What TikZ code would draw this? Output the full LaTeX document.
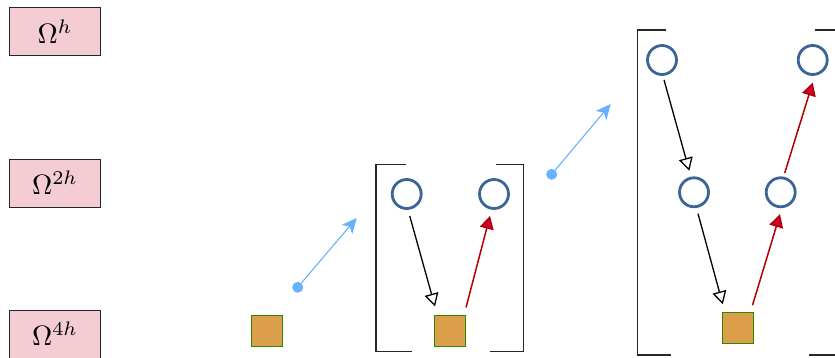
\documentclass[tikz,border=0pt]{standalone}
\usepackage{graphicx}
\usetikzlibrary{arrows.meta}
\definecolor{lblfill}{RGB}{244,204,211}
\definecolor{sqfill}{RGB}{218,159,72}
\definecolor{sqdraw}{RGB}{45,135,0}
\definecolor{circdraw}{RGB}{58,101,148}
\definecolor{redfill}{RGB}{204,0,51}
\definecolor{reddraw}{RGB}{178,0,0}
\definecolor{bluearr}{RGB}{102,178,255}
\newcommand{\lbltext}[1]{\scalebox{2.8}{$#1$}}
\tikzset{
  lbl/.style={draw=black!85, line width=0.8pt, fill=lblfill, minimum width=91pt, minimum height=48pt, inner sep=0pt},
  sq/.style={draw=sqdraw, line width=1pt, fill=sqfill, minimum size=31pt, inner sep=0pt},
  circ/.style={circle, draw=circdraw, line width=2.8pt, minimum size=29pt, inner sep=0pt},
  dot/.style={circle, fill=bluearr, minimum size=11pt, inner sep=0pt},
  down/.style={draw=black, line width=1.3pt, -{Triangle[open, length=13pt, width=14pt, line width=1.3pt]}},
  up/.style={draw=reddraw, line width=1.5pt, -{Triangle[length=13pt, width=14pt, fill=redfill]}},
  prolong/.style={draw=bluearr, line width=1.1pt, -{Stealth[length=15pt, width=14pt, inset=4pt]}},
  brk/.style={draw=black!85, line width=1.4pt}
}
\begin{document}
\begin{tikzpicture}[x=1pt, y=-1pt]
\useasboundingbox (0,0) rectangle (835,358);
\clip (0,0) rectangle (835,358);
% labels
\node[lbl] (L1) at (55,31.5) {\lbltext{\Omega^{h}}};
\node[lbl] (L2) at (55,183) {\lbltext{\Omega^{2h}}};
\node[lbl] (L3) at (55,334) {\lbltext{\Omega^{4h}}};
% left square
\node[sq] (S1) at (267,330.5) {};
% group 1
\node[dot] (D1) at (297.7,287.3) {};
\coordinate (T1) at (356.7,218);
\draw[prolong] (D1) -- (T1);
\draw[brk] (406,164.3) -- (376,164.3) -- (376,351.7) -- (411.7,351.7);
\draw[brk] (496,164.3) -- (523.7,164.3) -- (523.7,351.7) -- (490,351.7);
\node[circ] (A1) at (406.7,194) {};
\node[circ] (A2) at (494,194) {};
\node[sq] (S2) at (450,330.5) {};
\draw[down] ([shift={(3,6)}]A1.south) -- ([shift={(1,-8)}]S2.north west);
\draw[up] ([shift={(0,-7)}]S2.north east) -- ([shift={(-4,6)}]A2.south);
% group 2
\node[dot] (D2) at (551.7,174.3) {};
\coordinate (T2) at (610.7,104);
\draw[prolong] (D2) -- (T2);
\draw[brk] (666,30) -- (637.3,30) -- (637.3,355) -- (670.7,355);
\draw[brk] (815,30) -- (845,30) -- (845,355) -- (809.3,355);
\node[circ] (B1) at (662,60) {};
\node[circ] (B2) at (812.7,60) {};
\node[circ] (B3) at (694,192.3) {};
\node[circ] (B4) at (780.7,192.3) {};
\node[sq] (S3) at (737.5,328) {};
\draw[down] ([shift={(2,4)}]B1.south) -- ([shift={(-4.7,-5.6)}]B3.north);
\draw[down] ([shift={(4,5.4)}]B3.south) -- ([shift={(1.3,-7.7)}]S3.north west);
\draw[up] ([shift={(-1,-6.7)}]S3.north east) -- ([shift={(-0.7,6)}]B4.south);
\draw[up] ([shift={(4,-3.3)}]B4.north) -- ([shift={(0,6.7)}]B2.south);
\end{tikzpicture}
\end{document}
